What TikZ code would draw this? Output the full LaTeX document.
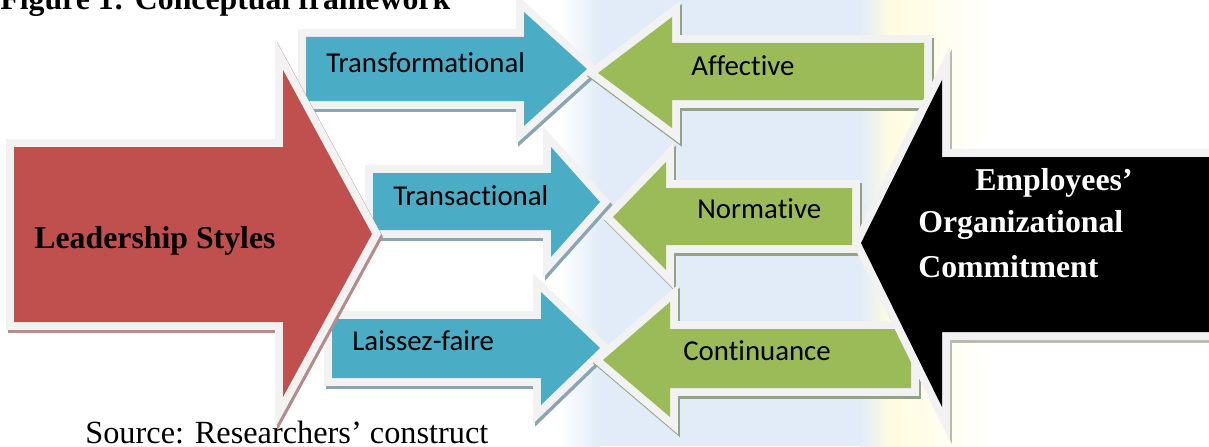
\documentclass[tikz,border=0pt]{standalone}
\usepackage{fontspec}
\setmainfont{Liberation Serif}
\newfontfamily\labelfont[Ligatures={NoCommon}]{Carlito}
\definecolor{redfill}{HTML}{C0504D}
\definecolor{bluefill}{HTML}{4BACC6}
\definecolor{greenfill}{HTML}{9BBB59}
\definecolor{rimgray}{HTML}{F2F2F2}
\definecolor{redshade}{HTML}{B48C8C}
\definecolor{blueshade}{HTML}{8AA6B4}
\definecolor{greenshade}{HTML}{93A385}
\definecolor{darkshade}{HTML}{B9BBAE}
\definecolor{washblue}{HTML}{E1ECF8}
\definecolor{washyellow}{HTML}{FFFCE0}
\begin{document}
\begin{tikzpicture}[x=0.02cm,y=-0.02cm,
  block/.style 2 args={line join=miter,
    preaction={draw=#2,fill=#2,line width=9pt,transform canvas={shift={(2,3)}}},
    preaction={draw=rimgray,line width=9pt},
    fill=#1},
  tag/.style={font=\labelfont\fontsize{16.4}{19}\selectfont,anchor=base west,inner sep=0pt},
  heading/.style={font=\bfseries\fontsize{18.1}{22}\selectfont,anchor=base west,inner sep=0pt},
  plain/.style={font=\fontsize{18.4}{22}\selectfont,anchor=base west,inner sep=0pt}]
\useasboundingbox (0,0) rectangle (1209,446);
\clip (0,0) rectangle (1209,446);
\fill[white] (0,0) rectangle (1209,446);
% soft tinted panels behind the middle and right of the figure
\shade[left color=white,right color=washblue] (560,0) rectangle (600,446);
\fill[washblue] (600,0) rectangle (860,446);
\shade[left color=washblue,right color=washyellow] (860,0) rectangle (890,446);
\shade[left color=washyellow,right color=white] (890,0) rectangle (990,446);

% leadership styles (blue, pointing right)
\path[block={bluefill}{blueshade}] (306,37) -- (524,37) -- (524,12) -- (587,69)
  -- (524,126) -- (524,101) -- (306,101) -- cycle;
\path[block={bluefill}{blueshade}] (373,173) -- (551,173) -- (551,147) -- (600,202)
  -- (551,257) -- (551,230) -- (373,230) -- cycle;
\path[block={bluefill}{blueshade}] (332,319) -- (541,319) -- (541,292) -- (600,348)
  -- (541,405) -- (541,378) -- (332,378) -- cycle;

% commitment components (green, pointing left)
\path[block={greenfill}{greenshade}] (924,43) -- (672,43) -- (672,17) -- (598,73)
  -- (672,128) -- (672,100) -- (924,100) -- cycle;
\path[block={greenfill}{greenshade}] (852,188) -- (666,188) -- (666,162) -- (613,217)
  -- (666,270) -- (666,245) -- (852,245) -- cycle;
\path[block={greenfill}{greenshade}] (911,329) -- (670,329) -- (670,302) -- (603,360)
  -- (670,417) -- (670,388) -- (911,388) -- cycle;

% the two main constructs
\path[block={redfill}{redshade}] (14,147) -- (283,147) -- (283,70) -- (372,234)
  -- (283,397) -- (283,322) -- (14,322) -- cycle;
\path[block={black}{darkshade}] (1240,157) -- (942,157) -- (942,80) -- (861,243)
  -- (942,407) -- (942,332) -- (1240,332) -- cycle;

% labels
\node[tag] (tf) at (326,72) {Transformational};
\node[tag] (ta) at (393,205) {Transactional};
\node[tag] (lf) at (352,350) {Laissez-faire};
\node[tag] (af) at (691,75) {Affective};
\node[tag] (no) at (697,218) {Normative};
\node[tag] (co) at (683,360) {Continuance};
\node[heading] (ls) at (34,248) {Leadership Styles};
\node[heading,text=white] (eoc1) at (975,190) {Employees’};
\node[heading,text=white] (eoc2) at (918,232) {Organizational};
\node[heading,text=white] (eoc3) at (918,277) {Commitment};
\node[heading] (title) at (0,10) {Figure 1: Conceptual framework};
\node[plain] (src) at (85,443) {Source: Researchers’ construct};
\end{tikzpicture}
\end{document}
